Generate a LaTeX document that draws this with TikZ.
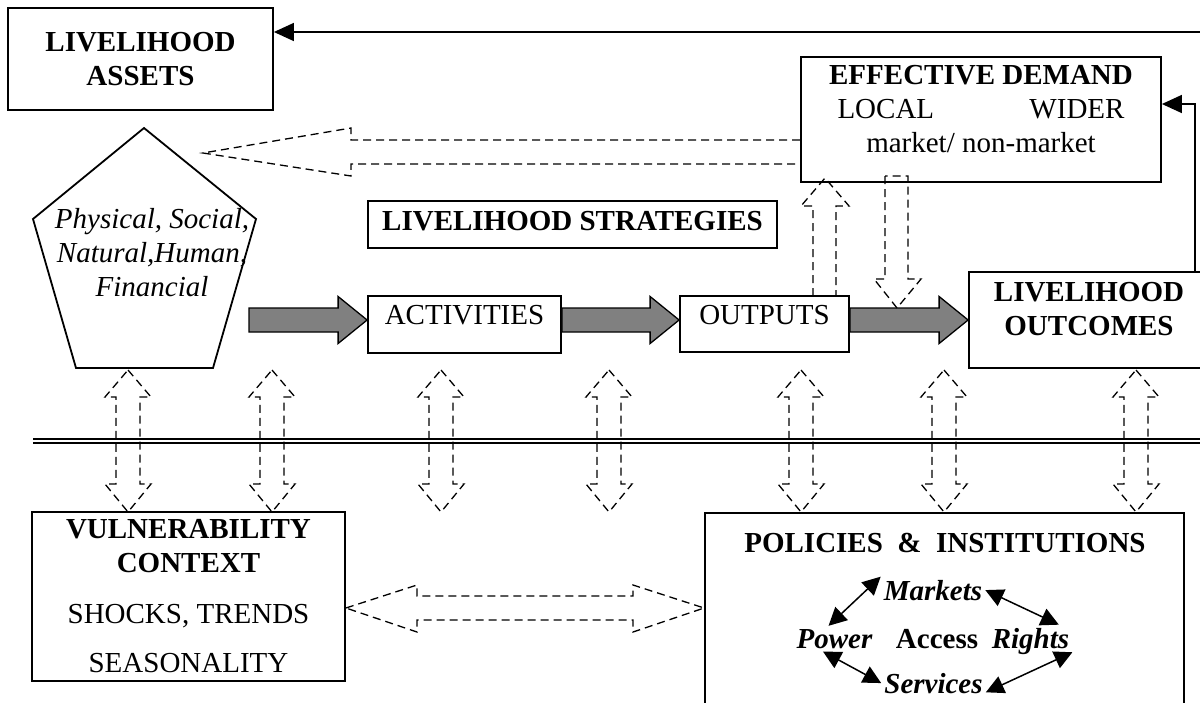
\documentclass[tikz,border=0pt]{standalone}
\usepackage{fontspec}
\setmainfont{Liberation Serif}
\usetikzlibrary{positioning, calc, arrows.meta}
\tikzset{
    >={Triangle[length=20pt,width=18pt]}, % solid arrow heads
    every node/.style={font=\fontsize{29}{34}\selectfont, inner sep=2pt}, % 12pt Times look
    bold/.style={font=\fontsize{29}{34}\selectfont\bfseries},
    box/.style={draw, line width=1.8pt, align=center}, % framed boxes
    hollow/.style={draw, line width=1.3pt, dash pattern=on 8pt off 5pt}, % dashed outline arrows
    fat/.style={fill=gray, draw=black, line width=1.3pt}, % grey block arrows
    word/.style={font=\fontsize{29}{34}\selectfont\bfseries\itshape, inner sep=3pt, anchor=base},
    link/.style={<->, >={Triangle[length=18pt,width=18pt]}, line width=1.5pt},
    }
% grey block arrow from #1 to the x of #2
\newcommand{\fatarrow}[2]{%
  \filldraw[fat] let \p1=(#1), \p2=(#2) in
    (\x1,\y1+12pt) -- (\x2-29pt,\y1+12pt) -- (\x2-29pt,\y1+23.5pt) -- (\x2,\y1)
    -- (\x2-29pt,\y1-23.5pt) -- (\x2-29pt,\y1-12pt) -- (\x1,\y1-12pt) -- cycle;}

\begin{document}
\begin{tikzpicture}[x=1pt, y=-1pt]
            \useasboundingbox (0,0) rectangle (1200,702);
            % top row
            \node[box, bold, minimum width=265pt, minimum height=102pt] (assets) at (140.5,59) {LIVELIHOOD\\ASSETS};
            \node[box, minimum width=360pt, minimum height=125pt] (demand) at (981,119.5) {};
            \node[align=center] (demandtext) at (981,109) {\textbf{EFFECTIVE DEMAND}\\\makebox[287pt]{LOCAL\hfill WIDER}\\market/ non-market};
            \draw[line width=1.8pt] (144,128) -- (256,219) -- (213,368) -- (76,368) -- (33,219) -- cycle;
            \node[font=\fontsize{29}{34}\selectfont\itshape, align=center] (capitals) at (152,253) {Physical, Social,\\Natural,Human,\\Financial};
            \node[box, bold, minimum width=409pt, minimum height=47pt, text height=20pt, text depth=9pt] (strategies) at (572.5,224.5) {LIVELIHOOD STRATEGIES};
            \node[box, minimum width=193pt, minimum height=57pt, text height=20pt, text depth=20pt] (act) at (464.5,324.5) {ACTIVITIES};
            \node[box, minimum width=169pt, minimum height=56pt, text height=20pt, text depth=20pt] (outputs) at (764.5,324) {OUTPUTS};
            \node[box, minimum width=250pt, minimum height=96pt] (outcomes) at (1094,320) {};
            \node[bold, align=center] (outcomestext) at (1089,309) {LIVELIHOOD\\OUTCOMES};
            % feedback lines
            \coordinate (topright) at (1200,32);
            \draw[->, line width=1.5pt] (topright) -- (topright -| assets.east);
            \coordinate (fb) at (1195,104);
            \draw[->, line width=1.5pt] (fb |- outcomes.north) -- (fb) -- (fb -| demand.east);
            % grey arrows
            \coordinate (row) at (249,320);
            \fatarrow{row}{act.west}
            \fatarrow{act.east |- row}{outputs.west}
            \fatarrow{outputs.east |- row}{outcomes.west}
            % dashed arrows
            \draw[hollow] (demand.west |- 0,140) -- (351,140) -- (351,128) -- (203,153) -- (351,176) -- (351,164) -- (demand.west |- 0,164);
            \draw[hollow] (813,296) -- (813,206) -- (801,206) -- (825,178) -- (849,206) -- (836,206) -- (836,296);
            \draw[hollow] (885,176) -- (885,279) -- (874,279) -- (897,308) -- (921,279) -- (908,279) -- (908,176) -- cycle;
            \draw[double, line width=2pt, double distance=2pt] (33,440.5) -- (1200,440.5);
            \foreach \c in {128,272,441,609,801,944,1136}
                \draw[hollow] (\c,370) -- (\c+23,397) -- (\c+12,397) -- (\c+12,484) -- (\c+23,484) -- (\c,512)
                    -- (\c-23,484) -- (\c-12,484) -- (\c-12,397) -- (\c-23,397) -- cycle;
            % bottom row
            \node[box, minimum width=313pt, minimum height=169pt] (vuln) at (188.5,596.5) {\textbf{VULNERABILITY}\\\textbf{CONTEXT}\\[17pt]SHOCKS, TRENDS\\[15pt]SEASONALITY};
            \node[box, minimum width=479pt, minimum height=220pt] (policies) at (944.5,623) {};
            \draw[hollow] (vuln.east |- 0,608) -- (417,585) -- (417,596) -- (633,596) -- (633,585) -- (policies.west |- 0,608)
                -- (633,632) -- (633,620) -- (417,620) -- (417,632) -- cycle;
            \node[bold, anchor=base] (policiestitle) at (945,552) {POLICIES\ \ \&\ \ INSTITUTIONS};
            \node[word] (markets) at (933,600) {Markets};
            \node[word] (power) at (834.5,648) {Power};
            \node[word, bold] (access) at (937,648) {Access};
            \node[word] (rights) at (1030.5,648) {Rights};
            \node[word] (services) at (933.5,693) {Services};
            \draw[link] (markets.north west) -- (power.115);
            \draw[link] (markets.east) -- (rights.30);
            \draw[link] (power.228) -- (services.west);
            \draw[link] (rights.-15) -- (services.-10);
\end{tikzpicture}
\end{document}
